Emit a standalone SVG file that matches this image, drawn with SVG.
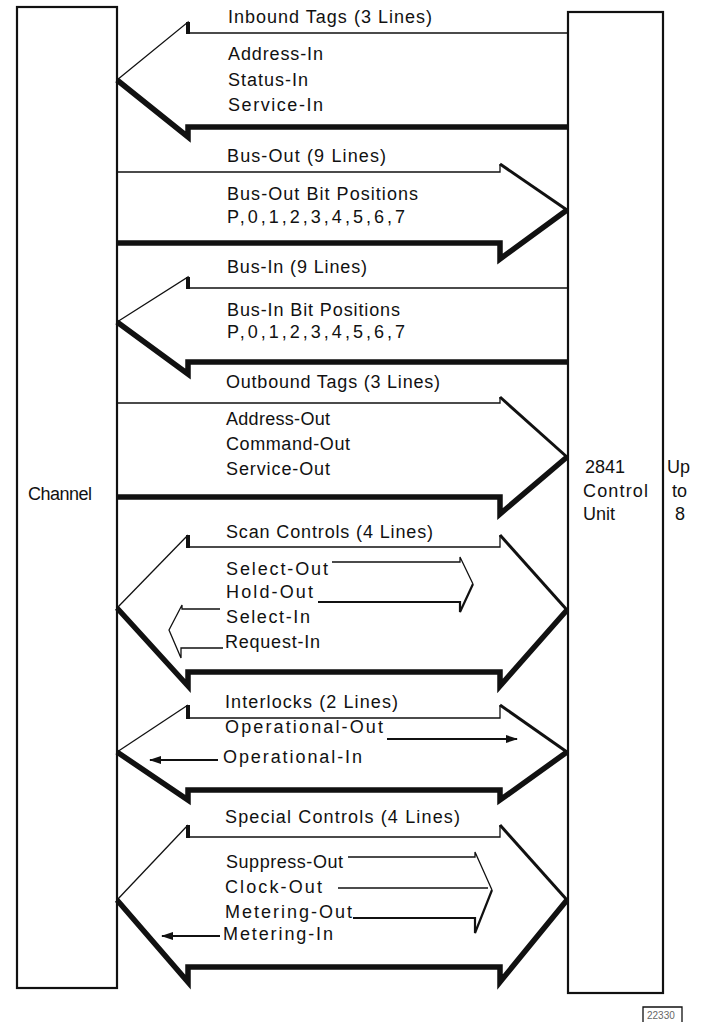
<svg xmlns="http://www.w3.org/2000/svg" width="707" height="1022" viewBox="0 0 707 1022">
<defs>
<style>
text{font-family:"Liberation Sans",Arial,sans-serif;font-size:18px;fill:#111}
.box{fill:none;stroke:#111;stroke-width:2.2}
.thin{fill:none;stroke:#111;stroke-width:1.3;stroke-linejoin:miter}
.med{fill:none;stroke:#111;stroke-width:3;stroke-linejoin:miter}
.thick{fill:none;stroke:#111;stroke-width:5.5;stroke-linejoin:miter}
.notch{fill:none;stroke:#111;stroke-width:4}
.sig{fill:none;stroke:#111;stroke-width:2.2}
.small{font-size:10px;fill:#666}
</style>
<marker id="ah" viewBox="0 0 12 8" refX="11" refY="4" markerWidth="12" markerHeight="8" markerUnits="userSpaceOnUse" orient="auto">
<path d="M0,0 L12,4 L0,8 Z" fill="#111"/>
</marker>
</defs>
<rect width="707" height="1022" fill="#fff"/>

<g id="channel">
<rect class="box" x="17" y="7" width="100" height="981"/>
<text x="28" y="500" textLength="64" lengthAdjust="spacing">Channel</text>
</g>

<g id="control-unit">
<rect class="box" x="568" y="12" width="95" height="981"/>
<text x="585" y="473">2841</text>
<text x="583" y="497" textLength="65" lengthAdjust="spacing">Control</text>
<text x="583" y="520">Unit</text>
<text x="667" y="473">Up</text>
<text x="672" y="497">to</text>
<text x="675" y="520">8</text>
</g>

<g id="connectors">
<g id="inbound-tags">
<polyline class="thin" points="568,33 188,33 188,22 117,80"/>
<polyline class="thick" points="117,80 188,137 188,127 568,127"/>
<line class="notch" x1="188" y1="22" x2="188" y2="34"/>
<text x="228" y="23" textLength="204" lengthAdjust="spacing">Inbound Tags (3 Lines)</text>
<text x="228" y="60" textLength="95" lengthAdjust="spacing">Address-In</text>
<text x="228" y="86" textLength="80" lengthAdjust="spacing">Status-In</text>
<text x="228" y="111" textLength="95" lengthAdjust="spacing">Service-In</text>
</g>

<g id="bus-out">
<polyline class="thin" points="117,172 500,172 500,164"/>
<polyline class="med" points="500,164 567,210"/>
<polyline class="thick" points="567,210 500,259 500,243 117,243"/>
<text x="227" y="162" textLength="159" lengthAdjust="spacing">Bus-Out (9 Lines)</text>
<text x="227" y="200" textLength="191" lengthAdjust="spacing">Bus-Out Bit Positions</text>
<text x="227" y="223" textLength="178" lengthAdjust="spacing">P,0,1,2,3,4,5,6,7</text>
</g>

<g id="bus-in">
<polyline class="thin" points="568,288 188,288 188,277 117,322"/>
<polyline class="thick" points="117,322 188,374 188,362 568,362"/>
<line class="notch" x1="188" y1="277" x2="188" y2="289"/>
<text x="227" y="273" textLength="140" lengthAdjust="spacing">Bus-In (9 Lines)</text>
<text x="227" y="316" textLength="173" lengthAdjust="spacing">Bus-In Bit Positions</text>
<text x="227" y="338" textLength="178" lengthAdjust="spacing">P,0,1,2,3,4,5,6,7</text>
</g>

<g id="outbound-tags">
<polyline class="thin" points="117,403 500,403 500,397"/>
<polyline class="med" points="500,397 567,457"/>
<polyline class="thick" points="567,457 500,514 500,497 117,497"/>
<text x="226" y="388" textLength="214" lengthAdjust="spacing">Outbound Tags (3 Lines)</text>
<text x="226" y="425" textLength="104" lengthAdjust="spacing">Address-Out</text>
<text x="226" y="450" textLength="124" lengthAdjust="spacing">Command-Out</text>
<text x="226" y="475" textLength="104" lengthAdjust="spacing">Service-Out</text>
</g>

<g id="scan-controls">
<polyline class="thin" points="117,608 188,535"/>
<line class="notch" x1="188" y1="535" x2="188" y2="548"/>
<polyline class="thin" points="188,547 500,547 500,535"/>
<polyline class="med" points="500,535 567,610"/>
<polyline class="thick" points="117,608 188,686 188,672 500,672 500,686 567,610"/>
<text x="226" y="538" textLength="207" lengthAdjust="spacing">Scan Controls (4 Lines)</text>
<text x="226" y="575" textLength="102" lengthAdjust="spacing">Select-Out</text>
<text x="226" y="598" textLength="87" lengthAdjust="spacing">Hold-Out</text>
<text x="226" y="623" textLength="84" lengthAdjust="spacing">Select-In</text>
<text x="225" y="648" textLength="95" lengthAdjust="spacing">Request-In</text>
<polyline class="thin" points="332,562 460,562 460,557 473,584"/>
<polyline class="sig" points="473,584 460,612 460,602 318,602"/>
<polyline class="thin" points="220,609 182,609 182,605 169,630 181,658 181,648 223,648"/>
</g>

<g id="interlocks">
<polyline class="thin" points="117,752 188,705"/>
<line class="notch" x1="188" y1="705" x2="188" y2="719"/>
<polyline class="thin" points="188,718 500,718 500,705"/>
<polyline class="med" points="500,705 567,752"/>
<polyline class="thick" points="117,752 188,800 188,790 500,790 500,800 567,752"/>
<text x="225" y="708" textLength="173" lengthAdjust="spacing">Interlocks (2 Lines)</text>
<text x="225" y="733" textLength="158" lengthAdjust="spacing">Operational-Out</text>
<text x="223" y="763" textLength="139" lengthAdjust="spacing">Operational-In</text>
<line class="sig" x1="387" y1="739" x2="517" y2="739" marker-end="url(#ah)"/>
<line class="sig" x1="218" y1="760" x2="150" y2="760" marker-end="url(#ah)"/>
</g>

<g id="special-controls">
<polyline class="thin" points="117,900 188,825"/>
<line class="notch" x1="188" y1="825" x2="188" y2="838"/>
<polyline class="thin" points="188,837 500,837 500,825"/>
<polyline class="med" points="500,825 567,900"/>
<polyline class="thick" points="117,900 188,982 188,967 500,967 500,982 567,900"/>
<text x="225" y="823" textLength="235" lengthAdjust="spacing">Special Controls (4 Lines)</text>
<text x="226" y="868" textLength="117" lengthAdjust="spacing">Suppress-Out</text>
<text x="225" y="893" textLength="97" lengthAdjust="spacing">Clock-Out</text>
<text x="225" y="918" textLength="127" lengthAdjust="spacing">Metering-Out</text>
<text x="223" y="940" textLength="110" lengthAdjust="spacing">Metering-In</text>
<polyline class="thin" points="348,857 475,857 475,852 492,890"/>
<polyline class="sig" points="492,890 475,933 475,918 353,918"/>
<line class="thin" x1="338" y1="888" x2="488" y2="888"/>
<line class="sig" x1="220" y1="936" x2="162" y2="936" marker-end="url(#ah)"/>
</g>
</g>

<g id="figure-number">
<path class="thin" d="M643,1022 V1007 H682 V1022"/>
<text class="small" x="647" y="1019">22330</text>
</g>
</svg>
